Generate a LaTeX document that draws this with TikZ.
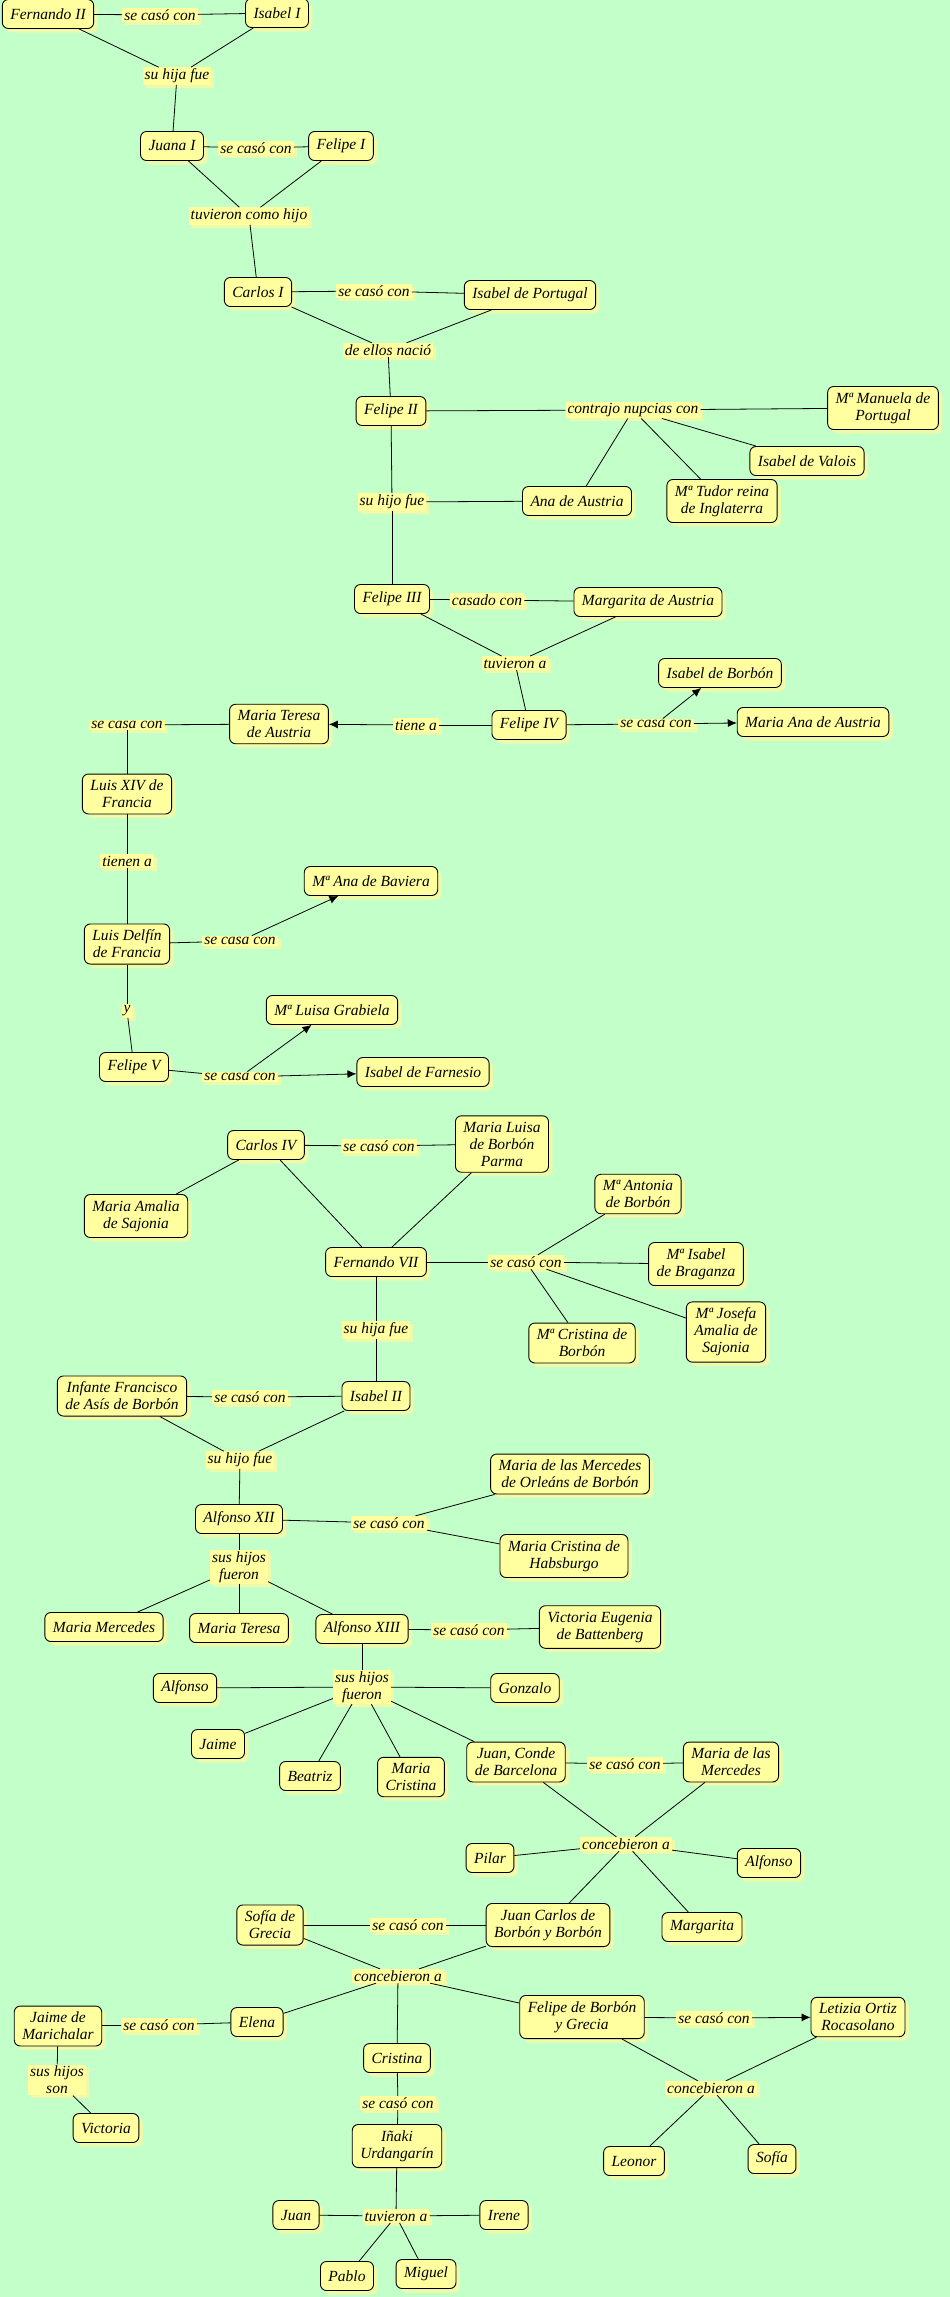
\documentclass[tikz,border=0pt]{standalone}
\usepackage{fontspec}
\setmainfont{Liberation Serif}
\usetikzlibrary{arrows.meta,shadows}
\definecolor{bg}{RGB}{195,255,200}
\definecolor{nfill}{RGB}{255,255,160}
\definecolor{nshadow}{RGB}{238,250,170}
\tikzset{
 concept/.style={draw=black, line width=0.9pt, fill=nfill, rounded corners=6pt, align=center,
   inner xsep=8pt, inner ysep=6pt, minimum height=29pt,
   font=\fontsize{15.5}{17}\selectfont\itshape,
   drop shadow={fill=nshadow, opacity=1, shadow xshift=4pt, shadow yshift=-4pt}},
 link/.style={fill=nfill, inner xsep=2pt, inner ysep=1.5pt, align=center,
   font=\fontsize{15.5}{17}\selectfont\itshape,
   drop shadow={fill=nshadow, opacity=1, shadow xshift=3pt, shadow yshift=-3pt}},
 conn/.style={draw=black, line width=0.8pt},
 arr/.style={conn, -{Latex[length=9pt,width=8pt]}},
}
\begin{document}
\begin{tikzpicture}[x=1pt,y=-1pt]
\fill[bg] (0,0) rectangle (950,2297);
\useasboundingbox (0,0) rectangle (950,2297);
% nodes
\node[concept] (n1) at (48,14) {Fernando II};
\node[link] (l1) at (160,15) {se casó con};
\node[concept] (n2) at (277,13) {Isabel I};
\node[link] (l2) at (177,76) {su hija fue};
\node[concept] (n3) at (172,146) {Juana I};
\node[link] (l3) at (256,148) {se casó con};
\node[concept] (n4) at (341,146) {Felipe I};
\node[link] (l4) at (249,216) {tuvieron como hijo};
\node[concept] (n5) at (258,292) {Carlos I};
\node[link] (l5) at (374,291) {se casó con};
\node[concept] (n6) at (530,295) {Isabel de Portugal};
\node[link] (l6) at (388,350) {de ellos nació};
\node[concept] (n7) at (391,411) {Felipe II};
\node[link] (l7) at (633,410) {contrajo nupcias con};
\node[concept] (n8) at (883,408) {Mª Manuela de\\Portugal};
\node[concept] (n9) at (807,461) {Isabel de Valois};
\node[concept] (n10) at (722,501) {Mª Tudor reina\\de Inglaterra};
\node[concept] (n11) at (577,501) {Ana de Austria};
\node[link] (l8) at (392,502) {su hijo fue};
\node[concept] (n12) at (392,599) {Felipe III};
\node[link] (l9) at (487,600) {casado con};
\node[concept] (n13) at (648,602) {Margarita de Austria};
\node[link] (l10) at (515,663) {tuvieron a};
\node[concept] (n14) at (529,725) {Felipe IV};
\node[link] (l11) at (416,725) {tiene a};
\node[concept] (n15) at (279,724) {Maria Teresa\\de Austria};
\node[link] (l12) at (127,725) {se casa con};
\node[link] (l13) at (656,724) {se casa con};
\node[concept] (n16) at (720,673) {Isabel de Borbón};
\node[concept] (n17) at (813,722) {Maria Ana de Austria};
\node[concept] (n18) at (127,794) {Luis XIV de\\Francia};
\node[link] (l14) at (127,861) {tienen a};
\node[concept] (n19) at (371,881) {Mª Ana de Baviera};
\node[concept] (n20) at (127,944) {Luis Delfín\\de Francia};
\node[link] (l15) at (240,941) {se casa con};
\node[link] (l16) at (127,1011) {y};
\node[concept] (n21) at (134,1067) {Felipe V};
\node[concept] (n22) at (332,1010) {Mª Luisa Grabiela};
\node[link] (l17) at (240,1077) {se casa con};
\node[concept] (n23) at (423,1072) {Isabel de Farnesio};
\node[concept] (n24) at (266,1145) {Carlos IV};
\node[link] (l18) at (379,1146) {se casó con};
\node[concept] (n25) at (502,1144) {Maria Luisa\\de Borbón\\Parma};
\node[concept] (n26) at (136,1216) {Maria Amalia\\de Sajonia};
\node[concept] (n27) at (376,1262) {Fernando VII};
\node[link] (l19) at (526,1262) {se casó con};
\node[concept] (n28) at (638,1194) {Mª Antonia\\de Borbón};
\node[concept] (n29) at (696,1264) {Mª Isabel\\de Braganza};
\node[concept] (n30) at (726,1332) {Mª Josefa\\Amalia de\\Sajonia};
\node[concept] (n31) at (582,1343) {Mª Cristina de\\Borbón};
\node[link] (l20) at (376,1330) {su hija fue};
\node[concept] (n32) at (122,1396) {Infante Francisco\\de Asís de Borbón};
\node[link] (l21) at (250,1397) {se casó con};
\node[concept] (n33) at (376,1396) {Isabel II};
\node[link] (l22) at (240,1460) {su hijo fue};
\node[concept] (n34) at (239,1519) {Alfonso XII};
\node[link] (l23) at (389,1523) {se casó con};
\node[concept] (n35) at (570,1474) {Maria de las Mercedes\\de Orleáns de Borbón};
\node[concept] (n36) at (564,1556) {Maria Cristina de\\Habsburgo};
\node[link] (l24) at (239,1567) {sus hijos\\fueron};
\node[concept] (n37) at (104,1627) {Maria Mercedes};
\node[concept] (n38) at (239,1628) {Maria Teresa};
\node[concept] (n39) at (362,1629) {Alfonso XIII};
\node[link] (l25) at (469,1630) {se casó con};
\node[concept] (n40) at (600,1627) {Victoria Eugenia\\de Battenberg};
\node[link] (l26) at (362,1687) {sus hijos\\fueron};
\node[concept] (n41) at (185,1688) {Alfonso};
\node[concept] (n42) at (525,1688) {Gonzalo};
\node[concept] (n43) at (218,1744) {Jaime};
\node[concept] (n44) at (310,1776) {Beatriz};
\node[concept] (n45) at (411,1777) {Maria\\Cristina};
\node[concept] (n46) at (516,1762) {Juan, Conde\\de Barcelona};
\node[link] (l27) at (625,1764) {se casó con};
\node[concept] (n47) at (731,1762) {Maria de las\\Mercedes};
\node[link] (l28) at (626,1844) {concebieron a};
\node[concept] (n48) at (490,1858) {Pilar};
\node[concept] (n49) at (769,1863) {Alfonso};
\node[concept] (n50) at (548,1925) {Juan Carlos de\\Borbón y Borbón};
\node[concept] (n51) at (702,1927) {Margarita};
\node[concept] (n52) at (270,1925) {Sofía de\\Grecia};
\node[link] (l29) at (408,1925) {se casó con};
\node[link] (l30) at (398,1976) {concebieron a};
\node[concept] (n53) at (582,2017) {Felipe de Borbón\\y Grecia};
\node[link] (l31) at (714,2018) {se casó con};
\node[concept] (n54) at (858,2017) {Letizia Ortiz\\Rocasolano};
\node[concept] (n55) at (257,2022) {Elena};
\node[link] (l32) at (159,2025) {se casó con};
\node[concept] (n56) at (58,2026) {Jaime de\\Marichalar};
\node[link] (l33) at (57,2080) {sus hijos\\son};
\node[concept] (n57) at (397,2058) {Cristina};
\node[link] (l34) at (711,2088) {concebieron a};
\node[link] (l35) at (398,2103) {se casó con};
\node[concept] (n58) at (106,2128) {Victoria};
\node[concept] (n59) at (397,2146) {Iñaki\\Urdangarín};
\node[link] (l36) at (396,2216) {tuvieron a};
\node[concept] (n60) at (296,2215) {Juan};
\node[concept] (n61) at (504,2215) {Irene};
\node[concept] (n62) at (347,2276) {Pablo};
\node[concept] (n63) at (426,2274) {Miguel};
\node[concept] (n64) at (634,2161) {Leonor};
\node[concept] (n65) at (772,2159) {Sofía};
% connectors
\draw[conn] (n1) -- (l1); \draw[conn] (l1) -- (n2);
\draw[conn] (n1) -- (l2); \draw[conn] (n2) -- (l2); \draw[conn] (l2) -- (n3);
\draw[conn] (n3) -- (l3); \draw[conn] (l3) -- (n4);
\draw[conn] (n3) -- (l4); \draw[conn] (n4) -- (l4); \draw[conn] (l4) -- (n5);
\draw[conn] (n5) -- (l5); \draw[conn] (l5) -- (n6);
\draw[conn] (n5) -- (l6); \draw[conn] (n6) -- (l6); \draw[conn] (l6) -- (n7);
\draw[conn] (n7) -- (l7);
\draw[conn] (l7) -- (n8); \draw[conn] (l7) -- (n9); \draw[conn] (l7) -- (n10); \draw[conn] (l7) -- (n11);
\draw[conn] (n7) -- (l8); \draw[conn] (l8) -- (n11); \draw[conn] (l8) -- (n12);
\draw[conn] (n12) -- (l9); \draw[conn] (l9) -- (n13);
\draw[conn] (n12) -- (l10); \draw[conn] (n13) -- (l10); \draw[conn] (l10) -- (n14);
\draw[conn] (n14) -- (l11); \draw[arr] (l11) -- (n15);
\draw[conn] (n15) -- (l12); \draw[conn] (l12) -- (n18);
\draw[conn] (n14) -- (l13); \draw[arr] (l13) -- (n16); \draw[arr] (l13) -- (n17);
\draw[conn] (n18) -- (l14); \draw[conn] (l14) -- (n20);
\draw[conn] (n20) -- (l15); \draw[arr] (l15) -- (n19);
\draw[conn] (n20) -- (l16); \draw[conn] (l16) -- (n21);
\draw[conn] (n21) -- (l17); \draw[arr] (l17) -- (n22); \draw[arr] (l17) -- (n23);
\draw[conn] (n24) -- (l18); \draw[conn] (l18) -- (n25);
\draw[conn] (n24) -- (n26);
\draw[conn] (n24) -- (n27); \draw[conn] (n25) -- (n27);
\draw[conn] (n27) -- (l19);
\draw[conn] (l19) -- (n28); \draw[conn] (l19) -- (n29); \draw[conn] (l19) -- (n30); \draw[conn] (l19) -- (n31);
\draw[conn] (n27) -- (l20); \draw[conn] (l20) -- (n33);
\draw[conn] (n32) -- (l21); \draw[conn] (l21) -- (n33);
\draw[conn] (n32) -- (l22); \draw[conn] (n33) -- (l22); \draw[conn] (l22) -- (n34);
\draw[conn] (n34) -- (l23); \draw[conn] (l23) -- (n35); \draw[conn] (l23) -- (n36);
\draw[conn] (n34) -- (l24);
\draw[conn] (l24) -- (n37); \draw[conn] (l24) -- (n38); \draw[conn] (l24) -- (n39);
\draw[conn] (n39) -- (l25); \draw[conn] (l25) -- (n40);
\draw[conn] (n39) -- (l26);
\draw[conn] (l26) -- (n41); \draw[conn] (l26) -- (n42); \draw[conn] (l26) -- (n43);
\draw[conn] (l26) -- (n44); \draw[conn] (l26) -- (n45); \draw[conn] (l26) -- (n46);
\draw[conn] (n46) -- (l27); \draw[conn] (l27) -- (n47);
\draw[conn] (n46) -- (l28); \draw[conn] (n47) -- (l28);
\draw[conn] (l28) -- (n48); \draw[conn] (l28) -- (n49); \draw[conn] (l28) -- (n50); \draw[conn] (l28) -- (n51);
\draw[conn] (n52) -- (l29); \draw[conn] (l29) -- (n50);
\draw[conn] (n52) -- (l30); \draw[conn] (n50) -- (l30);
\draw[conn] (l30) -- (n55); \draw[conn] (l30) -- (n57); \draw[conn] (l30) -- (n53);
\draw[conn] (n53) -- (l31); \draw[arr] (l31) -- (n54);
\draw[conn] (n53) -- (l34); \draw[conn] (n54) -- (l34);
\draw[conn] (l34) -- (n64); \draw[conn] (l34) -- (n65);
\draw[conn] (n56) -- (l32); \draw[conn] (l32) -- (n55);
\draw[conn] (n56) -- (l33); \draw[conn] (l33) -- (n58);
\draw[conn] (n57) -- (l35); \draw[conn] (l35) -- (n59);
\draw[conn] (n59) -- (l36);
\draw[conn] (l36) -- (n60); \draw[conn] (l36) -- (n61); \draw[conn] (l36) -- (n62); \draw[conn] (l36) -- (n63);
\end{tikzpicture}
\end{document}
